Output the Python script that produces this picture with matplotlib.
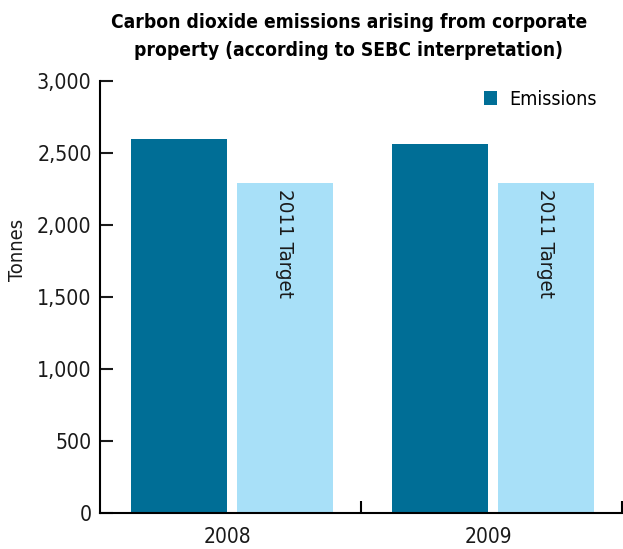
import numpy as np
import matplotlib
matplotlib.use('Agg')
import matplotlib.pyplot as plt

plt.rcParams['font.family'] = ['DejaVu Sans']
plt.rcParams['font.stretch'] = 'condensed'

years = ['2008', '2009']
emissions = [2600, 2560]
target = [2290, 2290]
target_label = '2011 Target'

fig = plt.figure(figsize=(6.23, 5.49), dpi=100)
ax = fig.add_axes([0.1605, 0.0656, 0.8375, 0.787])

x = np.arange(len(years))
w = 0.368
off = 0.006
ax.bar(x - w/2 + off - 0.019, emissions, w, color='#006E96', label='Emissions')
ax.bar(x + w/2 + off + 0.019, target, w, color='#A8E0F8')
for xi, t in zip(x, target):
    ax.text(xi + w/2 + off + 0.019, t - 40, target_label, rotation=-90, ha='center', va='top',
            fontsize=14.7, color='#1a1a1a')

ax.set_xlim(-0.5, 1.5)
ax.set_ylim(0, 3000)
ax.set_yticks(range(0, 3001, 500))
ax.set_yticklabels(['{:,}'.format(v) for v in range(0, 3001, 500)])
ax.set_xticks(x - 0.01)
ax.set_xticklabels(years)
ax.set_xticks([0.5, 1.5], minor=True)
ax.tick_params(axis='x', which='major', length=0, labelsize=15, pad=10, colors='#1a1a1a')
ax.tick_params(axis='x', which='minor', direction='in', length=9, width=1.5)
ax.tick_params(axis='y', direction='in', length=9, width=1.5, labelsize=15.3, pad=6, colors='#1a1a1a')
for s in ['top', 'right']:
    ax.spines[s].set_visible(False)
for s in ['left', 'bottom']:
    ax.spines[s].set_linewidth(1.5)
ax.set_ylabel('Tonnes', fontsize=14.5, color='#1a1a1a')
ax.yaxis.set_label_coords(-0.14, 0.608)

ax.legend(loc='upper right', frameon=False, fontsize=14, handlelength=0.7, handleheight=0.7,
          handletextpad=0.6, bbox_to_anchor=(0.985, 1.02))

fig.text(0.56, 0.933, 'Carbon dioxide emissions arising from corporate\nproperty (according to SEBC interpretation)',
         ha='center', va='center', fontsize=13.8, fontweight='bold', linespacing=1.6)

fig.savefig('out.png', dpi=100)
